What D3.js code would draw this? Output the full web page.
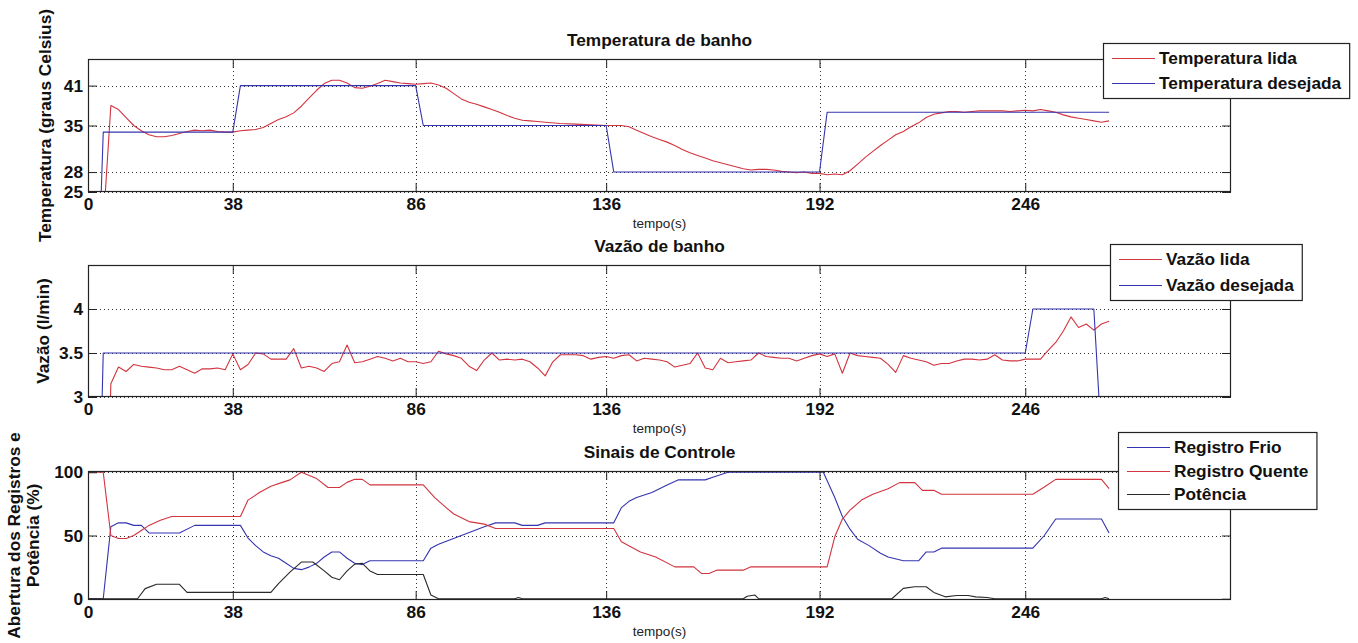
<!DOCTYPE html>
<html>
<head>
<meta charset="utf-8">
<script src="https://cdn.jsdelivr.net/npm/d3@7"></script>
<style>
  html, body { margin: 0; padding: 0; background: #fff; }
  svg { display: block; }
  text { font-family: "Liberation Sans", Arial, Helvetica, sans-serif; }
</style>
</head>
<body>
<svg id="chart" width="1358" height="643"></svg>
<script>
// ---------------- DATA ----------------
const xTicks = [0, 38, 86, 136, 192, 246];
const tempTicks = [25, 28, 35, 41];
const vazaoTicks = [3, 3.5, 4];
const sinaisTicks = [0, 50, 100];

const titles = ["Temperatura de banho", "Vazão de banho", "Sinais de Controle"];
const xLabel = "tempo(s)";

// [tempo (s), valor]
const temperaturaLida = [[0,20],[4,20],[6,38],[8,37.4],[10,36.2],[12,35],[14,34.2],[16,33.6],[18,33.3],[20,33.3],[22,33.5],[24,33.8],[26,34.1],[28,34.3],[30,34.2],[32,34.3],[34,34.1],[36,34.0],[38,34.0],[40,34.2],[42,34.3],[44,34.4],[46,34.7],[48,35.3],[50,35.9],[52,36.3],[54,36.9],[56,37.9],[58,39.1],[60,40.3],[62,41.3],[64,41.8],[66,41.8],[68,41.4],[70,40.7],[72,40.6],[74,40.9],[76,41.3],[78,41.8],[80,41.6],[82,41.4],[84,41.3],[86,41.2],[88,41.3],[90,41.4],[92,41.1],[94,40.6],[96,39.8],[98,39.0],[100,38.5],[102,38.2],[104,37.8],[106,37.4],[108,37.0],[110,36.5],[112,36.1],[114,35.8],[116,35.7],[118,35.6],[120,35.5],[124,35.3],[128,35.2],[132,35.1],[136,35.0],[140,35.0],[142,34.8],[144,34.3],[146,33.8],[148,33.3],[150,32.9],[152,32.5],[154,32.0],[156,31.4],[158,30.9],[160,30.5],[162,30.1],[164,29.7],[166,29.4],[168,29.1],[170,28.8],[172,28.5],[174,28.3],[176,28.4],[178,28.4],[180,28.3],[182,28.1],[184,28.0],[186,27.9],[188,28.0],[190,27.8],[192,27.8],[194,27.6],[196,27.7],[198,27.6],[200,28.2],[202,29.2],[204,30.2],[206,31.1],[208,32.0],[210,32.8],[212,33.6],[214,34.1],[216,34.8],[218,35.4],[220,36.2],[222,36.7],[224,36.9],[226,37.1],[228,37.1],[230,37.0],[232,37.1],[234,37.2],[236,37.2],[238,37.2],[240,37.2],[242,37.1],[244,37.2],[246,37.3],[248,37.2],[250,37.4],[252,37.2],[254,37.0],[256,36.6],[258,36.3],[260,36.1],[262,35.9],[264,35.7],[266,35.5],[268,35.7]];
const temperaturaDesejada = [[0,0],[2,0],[4,34],[38,34],[40,41],[86,41],[88,35],[136,35],[138,28],[192,28],[194,37],[268,37]];

const vazaoLida = [[0,0],[4,0],[6,3.15],[8,3.34],[10,3.29],[12,3.37],[14,3.35],[16,3.34],[18,3.33],[20,3.31],[22,3.31],[24,3.35],[26,3.31],[28,3.27],[30,3.32],[32,3.32],[34,3.33],[36,3.31],[38,3.49],[40,3.31],[42,3.37],[44,3.5],[46,3.49],[48,3.43],[50,3.43],[52,3.43],[54,3.55],[56,3.33],[58,3.35],[60,3.33],[62,3.29],[64,3.38],[66,3.4],[68,3.59],[70,3.39],[72,3.40],[74,3.43],[76,3.46],[78,3.44],[80,3.41],[82,3.44],[84,3.40],[86,3.40],[88,3.38],[90,3.40],[92,3.52],[94,3.49],[96,3.47],[98,3.44],[100,3.35],[102,3.3],[104,3.42],[106,3.5],[108,3.42],[110,3.43],[112,3.42],[114,3.43],[116,3.40],[118,3.33],[120,3.24],[122,3.40],[124,3.48],[126,3.48],[128,3.48],[130,3.47],[132,3.43],[134,3.45],[136,3.46],[138,3.44],[140,3.47],[142,3.48],[144,3.41],[146,3.44],[148,3.43],[150,3.42],[152,3.40],[154,3.34],[156,3.36],[158,3.38],[160,3.50],[162,3.33],[164,3.31],[166,3.44],[168,3.39],[170,3.40],[172,3.41],[174,3.42],[176,3.50],[178,3.46],[180,3.45],[182,3.44],[184,3.44],[186,3.41],[188,3.44],[190,3.47],[192,3.49],[194,3.46],[196,3.49],[198,3.27],[200,3.50],[202,3.47],[204,3.46],[206,3.45],[208,3.44],[210,3.37],[212,3.28],[214,3.47],[216,3.44],[218,3.42],[220,3.40],[222,3.36],[224,3.38],[226,3.38],[228,3.41],[230,3.43],[232,3.43],[234,3.42],[236,3.43],[238,3.48],[240,3.42],[242,3.41],[244,3.41],[246,3.43],[248,3.43],[250,3.43],[252,3.53],[254,3.62],[256,3.75],[258,3.91],[260,3.79],[262,3.83],[264,3.76],[266,3.83],[268,3.86]];
const vazaoDesejada = [[0,0],[2,0],[4,3.5],[246,3.5],[248,4],[264,4],[266,2.5],[268,0]];

const registroFrio = [[0,0],[4,0],[6,57],[8,60],[10,60],[12,58],[14,58],[16,52],[24,52],[28,58],[40,58],[42,48],[44,42],[46,37],[48,34],[50,32],[52,28],[54,24],[56,23],[58,25],[60,28],[62,33],[64,37],[66,37],[68,32],[70,28],[72,27],[74,30],[88,30],[90,40],[92,43],[98,50],[104,57],[107,60],[112,60],[114,58],[118,58],[120,60],[138,60],[140,72],[142,77],[144,80],[146,82],[148,84],[150,87],[152,90],[155,94],[162,94],[164,96],[166,98],[168,100],[193,100],[196,80],[198,65],[200,55],[202,47],[205,42],[208,36],[210,33],[214,30],[218,30],[220,37],[222,37],[224,40],[248,40],[251,50],[254,63],[266,63],[268,52]];
const registroQuente = [[0,100],[4,100],[6,50],[8,47.6],[10,47.6],[12,50],[14,54],[16,58],[19,62],[22,65],[40,65],[42,78],[45,84],[48,89],[51,92],[53,94],[56,100],[60,95],[63,88],[66,88],[68,92],[70,94.4],[72,94.4],[74,90],[88,90],[91,80],[94,72],[96,67],[100,61],[104,59],[107,55.5],[138,55.5],[140,45],[145,37],[149,33],[154,25.2],[159,25.2],[161,20],[163,20],[165,22.6],[172,22.6],[174,25.2],[194,25.2],[196,49],[198,63],[200,70],[203,78],[206,82.6],[210,87],[213,91.8],[217,91.8],[219,85.7],[222,85.7],[224,82.6],[248,82.6],[251,88.3],[254,94.4],[266,94.4],[268,87]];
const potencia = [[0,0],[13,0],[15,8],[18,11.4],[24,11.4],[26,5],[48,5],[50,12],[53,21],[56,29],[59,29],[62,22],[64,17],[66,15],[68,22],[70,27.4],[72,28],[74,22],[76,19.2],[88,19.2],[90,3],[92,0],[112,0],[113,1],[114,0],[172,0],[173,2],[175,3],[176,0],[211,0],[214,8.2],[217,9.5],[220,9.5],[222,5],[225,1.5],[228,2.5],[231,2.5],[233,1.5],[236,1],[238,0],[266,0],[267,1],[268,0]];

// ---------------- STYLE / LAYOUT ----------------
const RED = "#d2343f", BLUE = "#3434b0", BLACK = "#2a2a2a";
const left = 88, right = 1231;
const panels = [
  { top: 59,  bottom: 192, domain: [25, 45],  ticks: tempTicks,  tickFmt: d => d,
    ylabel: ["Temperatura (graus Celsius)"], ylabelX: [51],
    series: [{ data: temperaturaLida, color: RED, name: "Temperatura lida" },
             { data: temperaturaDesejada, color: BLUE, name: "Temperatura desejada" }],
    legend: { x: 1103, y: 43, rows: [58, 83] } },
  { top: 265, bottom: 397, domain: [3, 4.5], ticks: vazaoTicks, tickFmt: d => d,
    ylabel: ["Vazão (l/min)"], ylabelX: [49],
    series: [{ data: vazaoLida, color: RED, name: "Vazão lida" },
             { data: vazaoDesejada, color: BLUE, name: "Vazão desejada" }],
    legend: { x: 1110, y: 244, rows: [259, 285] } },
  { top: 471, bottom: 600, domain: [-1, 101], ticks: sinaisTicks, tickFmt: d => d,
    ylabel: ["Abertura dos Registros e", "Potência (%)"], ylabelX: [20, 39],
    series: [{ data: registroFrio, color: BLUE, name: "Registro Frio" },
             { data: registroQuente, color: RED, name: "Registro Quente" },
             { data: potencia, color: BLACK, name: "Potência" }],
    legend: { x: 1118, y: 432, rows: [447, 471, 494] } }
];

const svg = d3.select("#chart");
const x = d3.scaleLinear().domain([0, 300]).range([left, right]);
const FONT = "bold 17.3px 'Liberation Sans', Arial, sans-serif";

panels.forEach((p, i) => {
  const y = d3.scaleLinear().domain(p.domain).range([p.bottom, p.top]);
  const g = svg.append("g");
  const clipId = "clip" + i;
  svg.append("clipPath").attr("id", clipId).append("rect")
    .attr("x", left).attr("y", p.top).attr("width", right - left).attr("height", p.bottom - p.top);

  // grid (dotted)
  const grid = g.append("g").attr("stroke", "#333").attr("stroke-width", 1).attr("stroke-dasharray", "1,3");
  grid.selectAll(".gx").data(xTicks).join("line")
    .attr("x1", d => Math.round(x(d)) + 0.5).attr("x2", d => Math.round(x(d)) + 0.5)
    .attr("y1", p.top).attr("y2", p.bottom);
  grid.selectAll(".gy").data(p.ticks).join("line")
    .attr("y1", d => Math.round(y(d)) + 0.5).attr("y2", d => Math.round(y(d)) + 0.5)
    .attr("x1", left).attr("x2", right);

  // lines
  const line = d3.line().x(d => x(d[0])).y(d => y(d[1]));
  const lg = g.append("g").attr("clip-path", `url(#${clipId})`);
  p.series.forEach(s => {
    lg.append("path").datum(s.data).attr("d", line)
      .attr("fill", "none").attr("stroke", s.color).attr("stroke-width", 1.1)
      .attr("stroke-linejoin", "round");
  });

  // axes
  const ax = g.append("g").attr("transform", `translate(0,${p.bottom})`)
    .call(d3.axisBottom(x).tickValues(xTicks).tickSizeInner(-9).tickSizeOuter(0).tickPadding(6));
  const axTop = g.append("g").attr("transform", `translate(0,${p.top})`)
    .call(d3.axisTop(x).tickValues(xTicks).tickSizeInner(-9).tickSizeOuter(0).tickFormat(""));
  const ay = g.append("g").attr("transform", `translate(${left},0)`)
    .call(d3.axisLeft(y).tickValues(p.ticks).tickSizeInner(-9).tickSizeOuter(0).tickPadding(5).tickFormat(p.tickFmt));
  const ayR = g.append("g").attr("transform", `translate(${right},0)`)
    .call(d3.axisRight(y).tickValues(p.ticks).tickSizeInner(-9).tickSizeOuter(0).tickFormat(""));
  [ax, axTop, ay, ayR].forEach(a => {
    a.select(".domain").remove();
    a.selectAll("line").attr("stroke", "#222");
    a.selectAll("text").style("font", FONT).attr("fill", "#111");
  });

  // box
  g.append("rect").attr("x", left + 0.5).attr("y", p.top + 0.5)
    .attr("width", right - left - 1).attr("height", p.bottom - p.top - 1)
    .attr("fill", "none").attr("stroke", "#222").attr("stroke-width", 1.2);

  // title
  g.append("text").attr("x", (left + right) / 2).attr("y", p.top - 13)
    .attr("text-anchor", "middle").style("font", FONT).attr("fill", "#111").text(titles[i]);

  // x label
  g.append("text").attr("x", (left + right) / 2).attr("y", p.bottom + 36)
    .attr("text-anchor", "middle").style("font", "13.5px 'Liberation Sans', Arial, sans-serif")
    .attr("fill", "#222").text(xLabel);

  // y label
  const cy = (p.top + p.bottom) / 2;
  p.ylabel.forEach((t, k) => {
    g.append("text").attr("transform", `translate(${p.ylabelX[k]},${cy}) rotate(-90)`)
      .attr("text-anchor", "middle").style("font", FONT).attr("fill", "#111").text(t);
  });

  // legend
  const L = p.legend;
  const leg = svg.append("g");
  const box = leg.append("rect").attr("x", L.x + 0.5).attr("y", L.y + 0.5)
    .attr("fill", "#fff").attr("stroke", "#222").attr("stroke-width", 1.2);
  let maxW = 0;
  p.series.forEach((s, k) => {
    const ry = L.rows[k];
    leg.append("line").attr("x1", L.x + 9).attr("x2", L.x + 52)
      .attr("y1", ry + 0.5).attr("y2", ry + 0.5).attr("stroke", s.color).attr("stroke-width", 1.1);
    const t = leg.append("text").attr("x", L.x + 56).attr("y", ry + 6)
      .style("font", FONT).attr("fill", "#111").text(s.name);
    maxW = Math.max(maxW, t.node().getComputedTextLength());
  });
  const bh = L.rows[L.rows.length - 1] - L.y + (L.rows[0] - L.y);
  box.attr("width", 56 + maxW + 8).attr("height", bh);
});
</script>
</body>
</html>
